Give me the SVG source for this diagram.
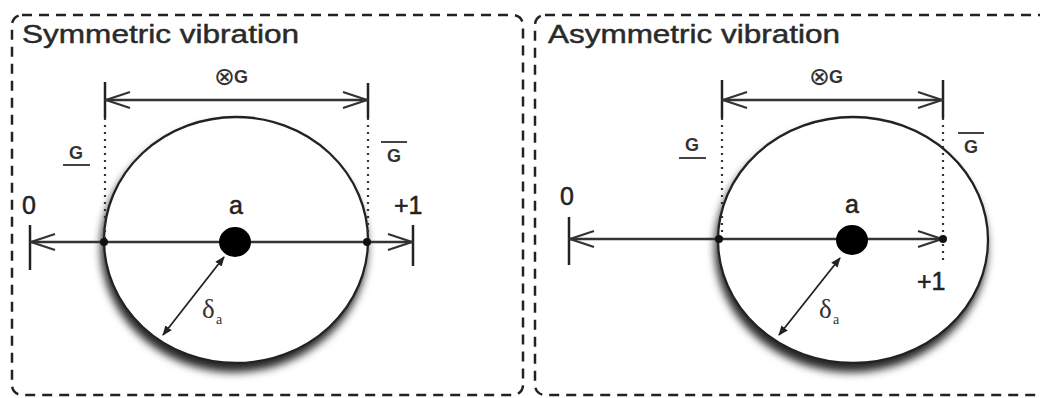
<svg xmlns="http://www.w3.org/2000/svg" width="1040" height="398" viewBox="0 0 1040 398">
  <style>
    .panel { fill: none; stroke: #222; stroke-width: 2.5; stroke-dasharray: 10 7; }
    .title { font-family: "Liberation Sans", Arial, sans-serif; font-size: 25px; fill: #2a2a2a; stroke: #2a2a2a; stroke-width: 0.45; }
    .lbl { font-family: "Liberation Sans", Arial, sans-serif; font-size: 25px; fill: #222; stroke: #222; stroke-width: 0.5; }
    .small { font-family: "Liberation Sans", Arial, sans-serif; font-size: 18px; font-weight: bold; fill: #333; }
    .sym { font-family: "DejaVu Sans", sans-serif; font-size: 25px; fill: #333; }
    .delta { font-family: "Liberation Serif", "Times New Roman", serif; font-size: 27px; fill: #333; }
    .sub { font-family: "Liberation Serif", "Times New Roman", serif; font-size: 14px; fill: #333; }
    .axis { stroke: #333; stroke-width: 2.5; fill: none; }
    .tick { stroke: #222; stroke-width: 2.5; fill: none; }
    .dotted { stroke: #333; stroke-width: 2.2; stroke-dasharray: 2 5; fill: none; }
    .bar { stroke: #444; stroke-width: 2; }
    .ball { fill: #fff; stroke: #222; stroke-width: 2.3; filter: url(#shadow); }
    .diag { stroke: #222; stroke-width: 1.8; fill: none; marker-start: url(#tri); marker-end: url(#tri); }
  </style>
  <defs>
    <filter id="shadow" x="-20%" y="-20%" width="140%" height="150%">
      <feDropShadow dx="-2" dy="8" stdDeviation="4" flood-color="#000" flood-opacity="0.85"/>
    </filter>
    <marker id="chev" markerUnits="userSpaceOnUse" markerWidth="28" markerHeight="20" viewBox="0 0 28 20" refX="26" refY="10" orient="auto-start-reverse">
      <path d="M2,2 L26,10 L2,18" fill="none" stroke="#333" stroke-width="2.2"/>
    </marker>
    <marker id="tri" markerUnits="userSpaceOnUse" markerWidth="10" markerHeight="8" viewBox="0 0 10 8" refX="9" refY="4" orient="auto-start-reverse">
      <path d="M0,0 L10,4 L0,8 Z" fill="#222"/>
    </marker>
  </defs>

  <!-- Left panel -->
  <g id="panel-symmetric">
    <rect class="panel" x="12" y="15" width="511" height="380" rx="10"/>
    <text class="title" x="22" y="43" textLength="277" lengthAdjust="spacingAndGlyphs">Symmetric vibration</text>
  </g>
  <g id="sym-ball">
    <ellipse class="ball" cx="236" cy="240" rx="132" ry="123"/>
  </g>
  <g id="sym-labels">
    <text class="sym" x="214" y="85">⊗</text>
    <text class="small" x="234" y="83">G</text>
    <text class="small" x="76" y="159" text-anchor="middle">G</text>
    <line class="bar" x1="63" y1="165" x2="90" y2="165"/>
    <text class="small" x="394" y="162" text-anchor="middle">G</text>
    <line class="bar" x1="381" y1="142" x2="407" y2="142"/>
    <text class="lbl" x="22" y="214">0</text>
    <text class="lbl" x="394" y="214">+1</text>
    <text class="lbl" x="236" y="214" text-anchor="middle">a</text>
    <text class="delta" x="202" y="318">δ</text>
    <text class="sub" x="216" y="324">a</text>
  </g>
  <g id="sym-connectors">
    <line class="dotted" x1="105" y1="118" x2="105" y2="242"/>
    <line class="dotted" x1="368" y1="118" x2="368" y2="242"/>
    <line class="tick" x1="105" y1="82" x2="105" y2="118"/>
    <line class="tick" x1="368" y1="83" x2="368" y2="118"/>
    <line class="axis" x1="106" y1="100" x2="367" y2="100" marker-start="url(#chev)" marker-end="url(#chev)"/>
    <line class="tick" x1="30" y1="225" x2="30" y2="270"/>
    <line class="tick" x1="413" y1="225" x2="413" y2="266"/>
    <line class="axis" x1="31" y1="242" x2="412" y2="242" marker-start="url(#chev)" marker-end="url(#chev)"/>
    <line class="diag" x1="163" y1="335" x2="224" y2="257"/>
  </g>
  <g id="sym-dots">
    <circle cx="104" cy="242" r="4" fill="#111"/>
    <circle cx="367" cy="242" r="4" fill="#111"/>
    <ellipse cx="235" cy="242" rx="16" ry="15" fill="#000"/>
  </g>

  <!-- Right panel -->
  <g id="panel-asymmetric">
    <rect class="panel" x="535" y="15" width="520" height="380" rx="10"/>
    <text class="title" x="548" y="43" textLength="292" lengthAdjust="spacingAndGlyphs">Asymmetric vibration</text>
  </g>
  <g id="asym-ball">
    <ellipse class="ball" cx="853" cy="240" rx="135" ry="123"/>
  </g>
  <g id="asym-labels">
    <text class="sym" x="809" y="85">⊗</text>
    <text class="small" x="829" y="83">G</text>
    <text class="small" x="692" y="151" text-anchor="middle">G</text>
    <line class="bar" x1="679" y1="158" x2="706" y2="158"/>
    <text class="small" x="971" y="153" text-anchor="middle">G</text>
    <line class="bar" x1="958" y1="133" x2="984" y2="133"/>
    <text class="lbl" x="560" y="205">0</text>
    <text class="lbl" x="917" y="290">+1</text>
    <text class="lbl" x="852" y="213" text-anchor="middle">a</text>
    <text class="delta" x="819" y="318">δ</text>
    <text class="sub" x="833" y="324">a</text>
  </g>
  <g id="asym-connectors">
    <line class="dotted" x1="722" y1="118" x2="722" y2="239"/>
    <line class="dotted" x1="943" y1="118" x2="943" y2="262"/>
    <line class="tick" x1="722" y1="80" x2="722" y2="118"/>
    <line class="tick" x1="943" y1="80" x2="943" y2="118"/>
    <line class="axis" x1="723" y1="100" x2="942" y2="100" marker-start="url(#chev)" marker-end="url(#chev)"/>
    <line class="tick" x1="569" y1="217" x2="569" y2="265"/>
    <line class="axis" x1="570" y1="239" x2="942" y2="239" marker-start="url(#chev)" marker-end="url(#chev)"/>
    <line class="diag" x1="779" y1="335" x2="840" y2="258"/>
  </g>
  <g id="asym-dots">
    <circle cx="719" cy="239" r="4" fill="#111"/>
    <circle cx="943" cy="239" r="4" fill="#111"/>
    <ellipse cx="852" cy="240" rx="16" ry="15" fill="#000"/>
  </g>
</svg>
